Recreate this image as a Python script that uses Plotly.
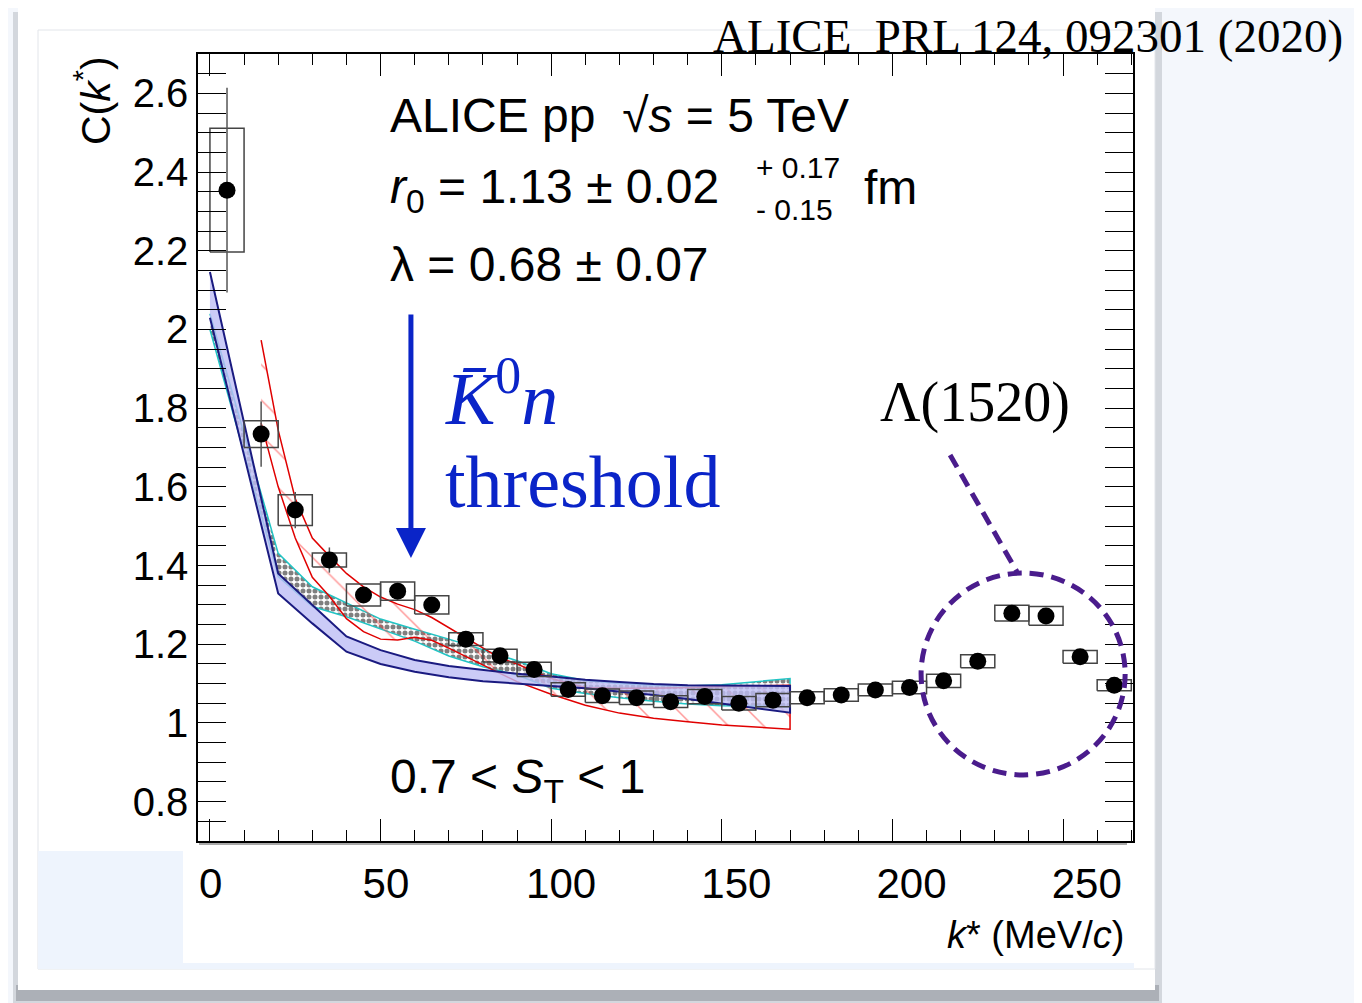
import plotly.graph_objects as go

# ---------------- data ----------------
k_data = [5, 15, 25, 35, 45, 55, 65, 75, 85, 95, 105, 115, 125, 135, 145, 155, 165,
          175, 185, 195, 205, 215, 225, 235, 245, 255, 265]
C_data = [2.354, 1.734, 1.541, 1.414, 1.325, 1.335, 1.300, 1.213, 1.171, 1.136,
          1.085, 1.069, 1.064, 1.054, 1.067, 1.050, 1.058, 1.064, 1.071, 1.084,
          1.090, 1.107, 1.157, 1.279, 1.272, 1.168, 1.096]
C_stat = [0.26, 0.083, 0.046, 0.032, 0.02, 0.015, 0.015, 0.012, 0.012, 0.01,
          0.01, 0.01, 0.01, 0.01, 0.01, 0.01, 0.01, 0.01, 0.01, 0.01,
          0.01, 0.01, 0.01, 0.012, 0.012, 0.01, 0.01]
C_syst = [0.157, 0.034, 0.039, 0.018, 0.028, 0.023, 0.023, 0.016, 0.016, 0.018,
          0.017, 0.017, 0.017, 0.015, 0.018, 0.017, 0.017, 0.015, 0.016, 0.015,
          0.016, 0.017, 0.0165, 0.020, 0.024, 0.016, 0.014]
bin_width = 10

# model band 1 (blue)
k_blue = [0, 10, 20, 30, 40, 50, 60, 70, 80, 90, 100, 110, 120, 130, 140, 150, 160, 170]
blue_hi = [2.146, 1.763, 1.380, 1.300, 1.220, 1.185, 1.160, 1.145, 1.135, 1.125,
           1.118, 1.110, 1.104, 1.099, 1.096, 1.095, 1.094, 1.094]
blue_lo = [2.030, 1.680, 1.329, 1.253, 1.181, 1.150, 1.130, 1.116, 1.106, 1.100,
           1.094, 1.088, 1.080, 1.071, 1.061, 1.050, 1.038, 1.026]

# model band 2 (cyan, checkered)
k_chk = [0, 10, 20, 30, 40, 50, 60, 70, 80, 90, 100, 110, 120, 130, 140, 150, 160, 170]
chk_hi = [2.040, 1.735, 1.431, 1.346, 1.304, 1.264, 1.238, 1.213, 1.186, 1.158,
          1.125, 1.108, 1.100, 1.096, 1.094, 1.097, 1.105, 1.113]
chk_lo = [2.000, 1.686, 1.372, 1.296, 1.270, 1.238, 1.208, 1.170, 1.143, 1.122,
          1.088, 1.075, 1.064, 1.055, 1.048, 1.044, 1.042, 1.041]

# model band 3 (red, hatched)
k_red = [15, 20, 25, 30, 35, 40, 45, 50, 55, 60, 65, 70, 75, 80, 85, 90, 95, 100,
         110, 120, 130, 140, 150, 160, 170]
red_hi = [1.973, 1.744, 1.570, 1.470, 1.424, 1.380, 1.346, 1.320, 1.302, 1.288,
          1.268, 1.242, 1.215, 1.190, 1.165, 1.150, 1.130, 1.113, 1.090, 1.088,
          1.088, 1.090, 1.092, 1.094, 1.096]
red_lo = [1.762, 1.600, 1.470, 1.370, 1.322, 1.265, 1.232, 1.213, 1.211, 1.218,
          1.210, 1.190, 1.170, 1.148, 1.126, 1.105, 1.088, 1.073, 1.045, 1.025,
          1.012, 1.003, 0.995, 0.989, 0.984]

x_tick_vals = [0, 50, 100, 150, 200, 250]
x_tick_text = ["0", "50", "100", "150", "200", "250"]
y_tick_vals = [0.8, 1.0, 1.2, 1.4, 1.6, 1.8, 2.0, 2.2, 2.4, 2.6]
y_tick_text = ["0.8", "1", "1.2", "1.4", "1.6", "1.8", "2", "2.2", "2.4", "2.6"]

# ---------------- layout geometry (page pixels) ----------------
PAGE_W, PAGE_H = 1362, 1003
OFF = 8                      # default body margin of the html page
W, H = PAGE_W - OFF, PAGE_H - OFF
PL, PR, PT, PB = 198, 1133, 54, 841     # plot frame in page pixels
SANS = "Liberation Sans, Arial, sans-serif"
SERIF = "Liberation Serif, Times New Roman, serif"


def px(xp):
    return (xp - PL) / (PR - PL)


def py(yp):
    return (PB - yp) / (PB - PT)


def band(k, lo, hi):
    return list(k) + list(k)[::-1], list(hi) + list(lo)[::-1]


fig = go.Figure()

# checkered band
bx, by = band(k_chk, chk_lo, chk_hi)
fig.add_trace(go.Scatter(x=bx, y=by, mode="lines", fill="toself",
                         line=dict(color="#22c4c4", width=1.5),
                         fillcolor="white",
                         fillpattern=dict(shape=".", fgcolor="black", bgcolor="white",
                                          size=6, solidity=0.55),
                         showlegend=False, hoverinfo="skip"))
# red hatched band
bx, by = band(k_red, red_lo, red_hi)
fig.add_trace(go.Scatter(x=bx, y=by, mode="lines", fill="toself",
                         line=dict(color="#e00000", width=1.5),
                         fillcolor="rgba(0,0,0,0)",
                         fillpattern=dict(shape="\\", fgcolor="#ff3030", bgcolor="rgba(0,0,0,0)",
                                          size=25, solidity=0.06),
                         showlegend=False, hoverinfo="skip"))
# blue band
bx, by = band(k_blue, blue_lo, blue_hi)
fig.add_trace(go.Scatter(x=bx, y=by, mode="lines", fill="toself",
                         line=dict(color="#1a1a80", width=2),
                         fillcolor="rgba(190,190,245,0.8)",
                         showlegend=False, hoverinfo="skip"))

# systematic boxes
box_x, box_y = [], []
for k, c, s in zip(k_data, C_data, C_syst):
    x0, x1 = k - bin_width / 2, k + bin_width / 2
    box_x += [x0, x1, x1, x0, x0, None]
    box_y += [c - s, c - s, c + s, c + s, c - s, None]
fig.add_trace(go.Scatter(x=box_x, y=box_y, mode="lines",
                         line=dict(color="#444444", width=1.5),
                         showlegend=False, hoverinfo="skip"))

# data points
fig.add_trace(go.Scatter(x=k_data, y=C_data, mode="markers",
                         marker=dict(color="black", size=17),
                         error_y=dict(type="data", array=C_stat, color="#555555",
                                      thickness=1.5, width=0),
                         showlegend=False))

# dummy trace for tick-label axis
fig.add_trace(go.Scatter(x=x_tick_vals, y=[None] * len(x_tick_vals), xaxis="x2",
                         mode="markers", showlegend=False, hoverinfo="skip"))

# ---------------- decorations ----------------
shapes = []
bg = "#f4f7fc"
shapes.append(dict(type="rect", xref="paper", yref="paper", layer="below",
                   x0=px(13), x1=px(1162), y0=py(12), y1=py(1003),
                   fillcolor="rgba(150,154,162,0.35)", line_width=0))
shapes.append(dict(type="rect", xref="paper", yref="paper", layer="below",
                   x0=px(16), x1=px(1159), y0=py(985), y1=py(1001),
                   fillcolor="rgba(140,144,152,0.55)", line_width=0))
shapes.append(dict(type="rect", xref="paper", yref="paper", layer="below",
                   x0=px(18), x1=px(1155), y0=py(8), y1=py(990),
                   fillcolor="white", line_width=0))
shapes.append(dict(type="rect", xref="paper", yref="paper", layer="below",
                   x0=px(38), x1=px(1155), y0=py(30), y1=py(969),
                   fillcolor="rgba(0,0,0,0)", line=dict(color="#e2e5ea", width=1)))
shapes.append(dict(type="rect", xref="paper", yref="paper", layer="below",
                   x0=px(38), x1=px(183), y0=py(851), y1=py(969),
                   fillcolor="#eef4fd", line_width=0))
shapes.append(dict(type="rect", xref="paper", yref="paper", layer="below",
                   x0=px(183), x1=px(1134), y0=py(963), y1=py(969),
                   fillcolor="#eef4fd", line_width=0))
# second axis line below frame
shapes.append(dict(type="line", xref="paper", yref="paper",
                   x0=px(199), x1=px(1127), y0=py(844), y1=py(844),
                   line=dict(color="#555555", width=1.2)))

# Lambda(1520) circle and leader
circ = dict(color="#4a1c8c", width=5, dash="14px,8px")
shapes.append(dict(type="circle", xref="x", yref="y", x0=208.4, x1=268.2,
                   y0=0.868, y1=1.381, line=circ))
shapes.append(dict(type="line", xref="x", yref="y", x0=216.9, y0=1.681,
                   x1=236.5, y1=1.384, line=circ))

ann = []


def txt(text, x, y, size, xanchor="left", family=SANS, color="black",
        yanchor="middle", **kw):
    ann.append(dict(text=text, x=px(x), y=py(y), xref="paper", yref="paper",
                    xanchor=xanchor, yanchor=yanchor, showarrow=False,
                    font=dict(family=family, size=size, color=color), **kw))


txt("ALICE pp  √<i>s</i> = 5 TeV", 388, 115, 48)
txt("<i>r</i><sub>0</sub> = 1.13 ± 0.02", 388, 190, 48)
txt("+ 0.17", 754, 168, 30)
txt("- 0.15", 754, 209, 30)
txt("fm", 862, 187, 48)
txt("λ = 0.68 ± 0.07", 388, 264, 48)
txt("0.7 < <i>S</i><sub>T</sub> < 1", 388, 780, 48)
BLUE = "#0a24c8"
txt("<i>K̄</i><sup>0</sup><i>n</i>", 443, 393, 74, family=SERIF, color=BLUE)
txt("threshold", 443, 482, 74, family=SERIF, color=BLUE)
txt("Λ(1520)", 975, 403, 56, xanchor="center", family=SERIF)
txt("ALICE  PRL 124, 092301 (2020)", 1028, OFF + 1, 47, xanchor="center",
    family=SERIF, yanchor="top", borderpad=0)
txt("<i>k</i>* (MeV/<i>c</i>)", 1126, 935, 38, xanchor="right")
ann.append(dict(text="C(<i>k</i><sup>*</sup>)", x=px(93), y=py(101), xref="paper",
                yref="paper", xanchor="center", yanchor="middle", showarrow=False,
                textangle=-90, font=dict(family=SANS, size=41, color="black")))

# threshold arrow
ann.append(dict(x=58.9, y=1.419, xref="x", yref="y", ax=0, ay=-245, text="",
                showarrow=True, arrowhead=2, arrowsize=1.2, arrowwidth=5,
                arrowcolor="#0a24c8"))

fig.update_layout(
    width=W, height=H,
    margin=dict(l=PL - OFF, r=PAGE_W - PR, t=PT - OFF, b=PAGE_H - PB, pad=0),
    paper_bgcolor=bg, plot_bgcolor="white",
    shapes=shapes, annotations=ann, showlegend=False,
    xaxis=dict(range=[-3.5, 270.5], tick0=0, dtick=50, ticks="inside", ticklen=22,
               tickwidth=1.3, tickcolor="black", showticklabels=False,
               minor=dict(dtick=10, ticks="inside", ticklen=11, tickwidth=1.2,
                          tickcolor="black"),
               showline=True, linecolor="black", linewidth=1.5, mirror="allticks",
               showgrid=False, zeroline=False),
    xaxis2=dict(overlaying="x", anchor="y", side="bottom", range=[-3.62, 263.2],
                tickvals=x_tick_vals, ticktext=x_tick_text, ticks="",
                showline=False, showgrid=False, zeroline=False,
                tickfont=dict(family=SANS, size=42, color="black"),
                ticklabelstandoff=14),
    yaxis=dict(range=[0.70, 2.70], tickvals=y_tick_vals, ticktext=y_tick_text,
               ticks="inside", ticklen=28, tickwidth=1.3, tickcolor="black",
               minor=dict(dtick=0.05, ticks="inside", ticklen=14, tickwidth=1.2,
                          tickcolor="black"),
               showline=True, linecolor="black", linewidth=1.5, mirror="allticks",
               showgrid=False, zeroline=False,
               tickfont=dict(family=SANS, size=40, color="black"),
               ticklabelstandoff=0),
)

fig.write_html("out.html")
